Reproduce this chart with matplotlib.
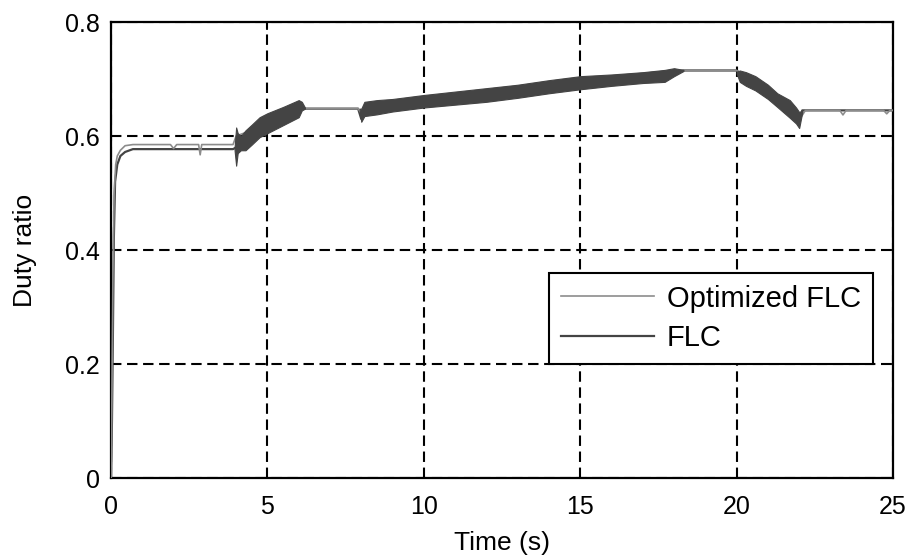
import matplotlib.pyplot as plt

plt.rcParams['font.family'] = ['Liberation Sans', 'DejaVu Sans']

# Optimized FLC duty ratio
t_opt = [0, 0.03, 0.06, 0.1, 0.15, 0.2, 0.3, 0.45, 0.7, 1.0, 1.9, 2.0, 2.1, 2.8, 2.85, 2.9,
         3.9, 4.0, 4.5, 5.0, 5.5, 6.0, 6.2, 7.0, 7.9, 8.0, 8.2, 9, 10, 11, 12, 13, 14, 15,
         16, 17, 18, 18.3, 19, 20, 20.5, 21, 21.5, 21.9, 22.0, 22.2, 23.3, 23.4, 23.5,
         24.7, 24.8, 24.9, 25]
d_opt = [0, 0.15, 0.35, 0.5, 0.55, 0.565, 0.575, 0.583, 0.585, 0.585, 0.585, 0.578, 0.585,
         0.585, 0.567, 0.585, 0.585, 0.60, 0.61, 0.625, 0.64, 0.65, 0.648, 0.648, 0.648,
         0.64, 0.645, 0.655, 0.665, 0.674, 0.68, 0.687, 0.693, 0.70, 0.705, 0.71, 0.715,
         0.715, 0.715, 0.715, 0.695, 0.675, 0.655, 0.635, 0.628, 0.645, 0.645, 0.637,
         0.645, 0.645, 0.639, 0.645, 0.645]

# FLC duty ratio centre line
t_flc = [0, 0.03, 0.06, 0.09, 0.13, 0.2, 0.3, 0.45, 0.7, 1.5, 3.9, 4.0, 6.1, 6.3, 7.9,
         8.0, 8.1, 18.3, 20.0, 22.0, 22.1, 25]
d_flc = [0, 0.1, 0.25, 0.42, 0.52, 0.55, 0.565, 0.572, 0.577, 0.577, 0.577, 0.58, 0.648,
         0.648, 0.648, 0.63, 0.645, 0.715, 0.715, 0.628, 0.645, 0.645]

# FLC oscillation band envelopes
tA = [3.95, 4.0, 4.05, 4.15, 4.3, 4.5, 4.75, 5.0, 5.5, 6.0, 6.1, 6.2]
hiA = [0.58, 0.615, 0.605, 0.60, 0.61, 0.62, 0.633, 0.64, 0.651, 0.663, 0.66, 0.65]
loA = [0.575, 0.548, 0.57, 0.575, 0.575, 0.585, 0.598, 0.605, 0.619, 0.633, 0.645, 0.648]

tB = [7.95, 8.0, 8.1, 8.5, 9.0, 10, 11, 12, 13, 14, 15, 16, 17, 17.7, 18.0, 18.3]
hiB = [0.648, 0.648, 0.66, 0.663, 0.665, 0.672, 0.678, 0.684, 0.69, 0.698, 0.705, 0.708,
       0.712, 0.716, 0.719, 0.716]
loB = [0.645, 0.625, 0.635, 0.638, 0.643, 0.65, 0.655, 0.66, 0.667, 0.675, 0.682, 0.688,
       0.693, 0.695, 0.705, 0.714]

tC = [20.0, 20.1, 20.3, 20.6, 21.0, 21.3, 21.7, 21.9, 22.0, 22.1]
hiC = [0.713, 0.715, 0.712, 0.705, 0.69, 0.675, 0.663, 0.65, 0.642, 0.645]
loC = [0.71, 0.695, 0.688, 0.68, 0.665, 0.651, 0.632, 0.622, 0.614, 0.642]

xticks = [0, 5, 10, 15, 20, 25]
yticks = [0, 0.2, 0.4, 0.6, 0.8]

fig = plt.figure(figsize=(9.13, 5.59), dpi=100)
ax = fig.add_axes([0.1216, 0.1449, 0.8565, 0.8157])

flc_col = '#444444'
opt_col = '#8c8c8c'

for tt, lo, hi in [(tA, loA, hiA), (tB, loB, hiB), (tC, loC, hiC)]:
    ax.fill_between(tt, lo, hi, color=flc_col, lw=0.8, zorder=4)

ax.plot(t_flc, d_flc, color=flc_col, lw=1.6, label='FLC', zorder=3)
ax.plot(t_opt, d_opt, color=opt_col, lw=1.2, label='Optimized FLC', zorder=3.5)

ax.set_xlim(0, 25)
ax.set_ylim(0, 0.8)
ax.set_xticks(xticks)
ax.set_yticks(yticks)
ax.set_xticklabels([str(v) for v in xticks])
ax.set_yticklabels(['0', '0.2', '0.4', '0.6', '0.8'])
ax.grid(True, color='black', linestyle=(0, (5, 2.7)), lw=1.5)
ax.tick_params(direction='in', top=True, right=True, labelsize=18, length=6, width=1.2, pad=8)
ax.tick_params(axis='x', pad=12)
for s in ax.spines.values():
    s.set_linewidth(1.6)

ax.set_xlabel('Time (s)', fontsize=19, labelpad=9)
ax.set_ylabel('Duty ratio', fontsize=19, labelpad=20)

h, l = ax.get_legend_handles_labels()
leg = ax.legend([h[1], h[0]], [l[1], l[0]], loc='upper left', bbox_to_anchor=(0.560, 0.4496),
                fontsize=21, fancybox=False, framealpha=1, edgecolor='black',
                handlelength=3.2, handletextpad=0.45, borderpad=0.4, labelspacing=0.4,
                borderaxespad=0)
leg.get_frame().set_linewidth(1.5)

fig.savefig('out.png', dpi=100)
